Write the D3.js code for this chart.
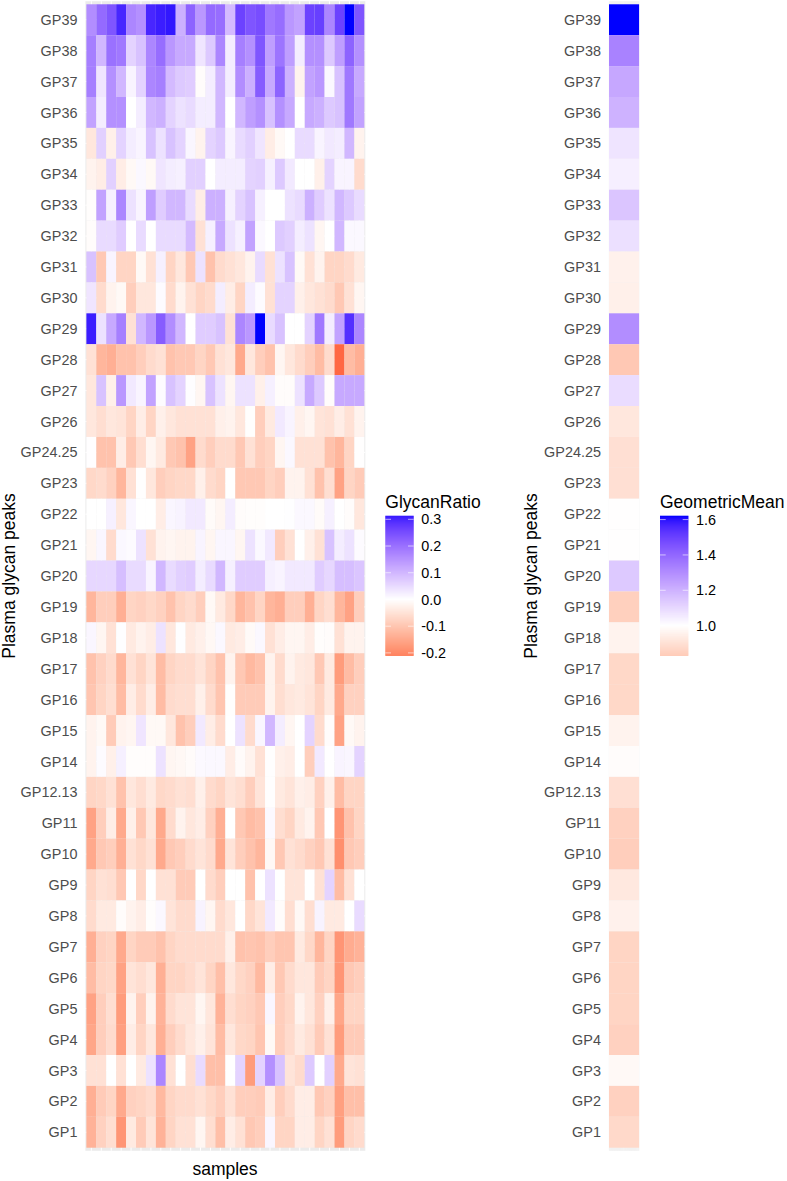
<!DOCTYPE html>
<html>
<head>
<meta charset="utf-8">
<script src="https://cdnjs.cloudflare.com/ajax/libs/d3/7.8.5/d3.min.js"></script>
<style>
html,body{margin:0;padding:0;background:#fff}
svg{display:block}
text{font-family:"Liberation Sans",Arial,sans-serif}
</style>
</head>
<body>
<svg id="chart" width="787" height="1181"></svg>
<script>
const peaks = ["GP39","GP38","GP37","GP36","GP35","GP34","GP33","GP32","GP31","GP30","GP29","GP28","GP27","GP26","GP24.25","GP23","GP22","GP21","GP20","GP19","GP18","GP17","GP16","GP15","GP14","GP12.13","GP11","GP10","GP9","GP8","GP7","GP6","GP5","GP4","GP3","GP2","GP1"];
const samples = d3.range(1,29).map(d=>"S"+d);

const gp39=[.16,.21,.24,.3,.17,.155,.3,.31,.315,.11,.22,.145,.21,.205,.095,.265,.24,.25,.19,.205,.145,.13,.265,.27,.17,.265,.33,.24];
const gp38=[.18,.1,.2,.19,.06,.085,.17,.205,.145,.12,.12,.035,.075,.17,.025,.18,.155,.24,.135,.195,.135,.025,.155,.155,.075,.135,.22,.155];
const gp37=[.18,.035,.155,.1,.015,.06,.17,.18,.095,.075,.07,-.005,.025,.1,.025,.16,.11,.23,.12,.22,.11,-.02,.13,.145,.01,.085,.19,.12];
const gp36=[.13,.025,.155,.155,0,.025,.1,.11,.06,.04,.05,.025,.025,.1,0,.1,.135,.155,.085,.155,.12,0,.12,.11,.075,.085,.19,.13];
const gp35=[-.04,.065,-.025,.06,.025,.015,.085,.04,.085,.06,.012,-.02,.06,.075,.015,.05,.065,.035,-.03,-.01,0,.05,.05,.015,.03,.025,.1,-.02];
const gp34=[-.02,-.03,.065,-.03,-.01,.01,-.01,.035,.025,.02,.065,.065,0,.025,.025,.025,.06,.065,.02,.075,.03,0,0,-.025,.06,.015,.015,-.06];
const gp33=[-.003,.13,.02,.17,.04,.015,.135,.07,.1,.1,.05,-.03,.11,.11,.02,.06,.085,.02,0,0,.04,.05,.11,.07,.04,.1,.075,.05];
const gp32=[-.005,.05,.05,.07,0,.05,0,.05,.05,.05,.095,-.05,.02,.12,.04,.02,.13,.01,0,.075,.065,.025,.04,-.015,0,.1,.01,.01];
const gp31=[.085,-.09,.015,-.07,-.07,-.01,-.05,.02,-.07,-.04,-.09,.04,-.1,-.06,-.05,-.04,-.02,.05,-.05,.04,.085,-.01,-.05,-.02,-.07,-.07,-.06,-.035];
const gp30=[.035,-.06,-.02,-.01,-.08,-.04,-.04,.005,-.06,-.02,-.05,-.07,-.06,.025,-.03,-.07,.025,.005,-.05,.06,.06,-.025,-.04,-.05,-.06,-.09,-.05,-.015];
const gp29=[.31,.04,.12,.18,-.05,.1,.145,.23,.16,.1,0,.07,.07,.085,-.05,.17,.145,.33,.05,.085,0,0,.06,.19,.025,.13,.29,.17];
const gp28=[-.05,-.12,-.13,-.1,-.1,-.08,-.06,-.05,-.1,-.09,-.09,-.07,-.09,-.05,-.04,-.14,-.04,-.08,-.1,-.015,-.04,-.06,-.08,-.11,-.06,-.235,-.11,-.13];
const gp27=[-.04,.085,-.025,.145,.03,.015,.13,.005,.085,.06,.003,-.015,.085,.04,-.015,.04,.04,-.025,.02,-.005,-.005,.04,.12,.075,-.005,.12,.12,.12];
const gp26=[-.04,-.055,-.04,-.045,-.07,-.03,-.07,-.025,-.04,-.05,-.05,-.05,-.05,-.025,-.02,-.04,-.002,-.08,-.035,.03,.015,-.025,-.015,-.045,-.05,-.03,-.05,-.02];
const gp2425=[.001,-.1,-.1,-.03,-.09,-.055,-.015,-.035,-.09,-.1,-.15,-.06,-.08,-.06,-.06,-.09,-.05,-.08,-.07,-.015,.01,-.05,-.05,-.05,-.1,-.12,-.07,-.001];
const gp23=[-.065,-.06,-.075,-.12,-.05,-.001,-.04,-.08,-.07,-.065,-.065,-.025,-.06,-.07,0,-.09,-.09,-.09,-.07,-.08,-.02,-.02,-.05,-.1,-.055,-.15,-.07,-.085];
const gp22=[0,0,.02,-.04,.012,0,0,-.03,.012,.017,.03,.03,-.007,-.015,.025,-.005,-.003,-.003,0,0,.002,.01,.01,-.007,.02,0,-.005,-.04];
const gp21=[-.015,.012,-.06,.01,.005,.04,-.05,-.02,-.015,-.02,-.02,.015,-.015,.012,.012,-.015,.04,.01,.03,-.08,-.05,0,-.025,-.05,.085,.025,.04,.005];
const gp20=[.055,.055,.055,.09,.05,.05,.015,.1,.05,.065,.07,.025,.05,.1,.02,.07,.07,.07,.02,.015,.03,.03,.03,.07,.055,.09,.09,.08];
const gp19=[-.12,-.08,-.08,-.13,-.07,-.075,-.065,-.075,-.1,-.07,-.06,-.08,-.01,-.035,-.065,-.12,-.1,-.07,-.12,-.13,-.08,-.08,-.13,-.07,-.055,-.12,-.15,-.08];
const gp18=[.012,-.015,-.05,.002,-.035,-.02,-.03,.04,-.04,.002,-.035,-.025,-.012,.01,-.035,-.03,-.008,.01,-.05,-.03,-.015,-.015,-.03,-.003,-.005,-.05,-.02,-.02];
const gp17=[-.1,-.075,-.06,-.12,-.05,-.07,-.045,-.11,-.07,-.06,-.06,-.045,-.07,-.1,-.02,-.09,-.115,-.1,-.02,-.06,-.02,-.035,-.04,-.09,-.035,-.16,-.11,-.08];
const gp16=[-.095,-.07,-.055,-.11,-.03,-.06,-.03,-.11,-.06,-.055,-.055,-.025,-.06,-.095,-.002,-.085,-.085,-.085,-.02,-.055,-.04,-.035,-.045,-.07,-.035,-.14,-.075,-.075];
const gp15=[-.02,-.01,-.085,-.02,-.015,.035,-.01,-.01,-.04,-.1,-.08,.03,-.03,-.06,0,.04,-.06,.012,.1,.025,-.015,0,.06,-.06,-.005,-.15,-.01,-.02];
const gp14=[-.02,.005,-.025,.02,-.003,-.003,-.003,.04,-.015,-.012,-.006,.008,.01,.01,-.03,-.006,-.02,-.05,-.001,-.025,-.03,0,-.08,.03,0,.015,.012,.06];
const gp1213=[-.07,-.065,-.05,-.1,-.04,-.055,-.035,-.065,-.06,-.05,-.055,-.025,-.06,-.07,-.045,-.055,-.08,-.045,-.001,-.035,-.045,-.025,-.03,-.075,-.025,-.11,-.07,-.07];
const gp11=[-.15,-.08,-.03,-.14,-.025,-.09,-.04,-.14,-.06,-.02,-.04,-.03,-.075,-.13,0,-.09,-.11,-.1,.008,-.055,-.07,-.035,-.02,-.09,0,-.17,-.1,-.07];
const gp10=[-.14,-.09,-.08,-.13,-.05,-.065,-.05,-.14,-.09,-.08,-.06,-.045,-.06,-.14,-.045,-.08,-.1,-.12,-.012,-.09,-.05,-.06,-.075,-.09,-.05,-.18,-.09,-.08];
const gp9=[-.07,-.05,-.055,-.09,0,-.065,0,-.05,-.05,-.085,-.085,0,-.06,-.08,0,0,-.1,0,.04,0,-.045,-.045,0,-.05,.06,-.11,-.05,0];
const gp8=[-.06,-.035,-.035,-.005,-.02,-.03,-.003,.01,-.045,-.06,-.06,.017,-.015,-.06,-.04,0,-.065,-.045,.03,-.005,-.055,-.012,-.055,.017,-.035,-.035,0,.05];
const gp7=[-.13,-.075,-.07,-.14,-.07,-.085,-.085,-.1,-.07,-.06,-.06,-.06,-.06,-.06,-.025,-.1,-.095,-.1,-.08,-.095,-.095,-.035,-.065,-.12,-.07,-.17,-.135,-.125];
const gp6=[-.11,-.07,-.065,-.15,-.045,-.055,-.04,-.13,-.07,-.07,-.06,-.045,-.07,-.105,-.04,-.065,-.075,-.115,-.03,-.09,-.06,-.04,-.04,-.085,-.07,-.17,-.09,-.08];
const gp5=[-.15,-.08,-.055,-.16,-.02,-.08,-.02,-.125,-.06,-.045,-.045,-.015,-.04,-.125,-.055,-.07,-.075,-.09,.012,-.08,-.065,-.02,-.04,-.075,-.025,-.145,-.07,-.07];
const gp4=[-.145,-.08,-.06,-.155,-.03,-.07,-.04,-.13,-.08,-.06,-.04,-.025,-.045,-.11,-.04,-.065,-.07,-.095,-.01,-.08,-.06,-.035,-.05,-.085,-.05,-.16,-.085,-.085];
const gp3=[-.05,-.05,0,-.05,0,-.035,.04,.17,-.05,0,-.055,.05,-.105,-.105,0,.06,-.16,.06,.155,.085,-.045,-.06,.075,0,.065,-.14,-.045,-.05];
const gp2=[-.13,-.085,-.07,-.14,-.075,-.07,-.06,-.115,-.07,-.06,-.06,-.05,-.065,-.08,-.05,-.08,-.08,-.085,-.03,-.08,-.06,-.03,-.03,-.09,-.075,-.155,-.105,-.105];
const gp1=[-.125,-.075,-.055,-.17,-.035,-.085,-.045,-.125,-.07,-.05,-.05,-.015,-.055,-.105,-.03,-.05,-.09,-.08,.012,-.07,-.07,-.03,-.03,-.07,-.05,-.16,-.07,-.06];

const ratioRows=[gp39,gp38,gp37,gp36,gp35,gp34,gp33,gp32,gp31,gp30,gp29,gp28,gp27,gp26,gp2425,gp23,gp22,gp21,gp20,gp19,gp18,gp17,gp16,gp15,gp14,gp1213,gp11,gp10,gp9,gp8,gp7,gp6,gp5,gp4,gp3,gp2,gp1];
const geoMean=[1.62,1.33,1.23,1.2,1.07,1.04,1.15,1.08,.955,.95,1.3,.82,1.09,.92,.895,.895,.998,.998,1.14,.845,.96,.87,.87,.96,.99,.895,.85,.84,.925,.955,.86,.86,.86,.85,.98,.85,.875];

const ratioTicks=[-0.2,-0.1,0,0.1,0.2,0.3];
const geoTicks=[1.0,1.2,1.4,1.6];

const svg=d3.select("#chart");
const panelTop=1.2, panelBottom=1150.8;
const GRID="#EBEBEB", INK="#4D4D4D";

function colorScale(lo,mid,hi){
  return d3.scaleLinear().domain([lo,mid,hi]).range(["red","white","blue"]).interpolate(d3.interpolateLab);
}
const ratioColor=colorScale(-0.33,0,0.33);
const tileColor=colorScale(-0.31,0,0.33);
const geoColor=colorScale(0.38,1,1.62);

function panel(x0,x1,gridW,tileFn){
  const x=d3.scalePoint().domain(samples).range([x0,x1]).padding(0.6);
  const y=d3.scalePoint().domain(peaks).range([panelTop,panelBottom]).padding(0.6);
  const g=svg.append("g");
  g.append("rect").attr("x",x0).attr("y",panelTop).attr("width",x1-x0).attr("height",panelBottom-panelTop).attr("fill",GRID);
  g.selectAll("line.v").data(samples).join("line").attr("class","v").attr("x1",d=>x(d)).attr("x2",d=>x(d)).attr("y1",panelTop).attr("y2",panelBottom).attr("stroke","#fff").attr("stroke-width",gridW);
  g.selectAll("line.h").data(peaks).join("line").attr("class","h").attr("y1",d=>y(d)).attr("y2",d=>y(d)).attr("x1",x0).attr("x2",x1).attr("stroke","#fff").attr("stroke-width",1);
  tileFn(g,x,y);
  const ax=g.append("g").attr("transform",`translate(${x0},0)`).call(d3.axisLeft(y).tickSize(0).tickPadding(8));
  ax.select(".domain").remove();
  ax.selectAll("text").attr("fill",INK).attr("font-size",14.4).attr("font-family",'"Liberation Sans",Arial,sans-serif');
}

panel(85.4,365.3,1,(g,x,y)=>{
  const sx=x.step(), sy=y.step();
  const rows=g.selectAll("g.row").data(peaks).join("g").attr("class","row");
  rows.selectAll("rect").data((p,i)=>ratioRows[i].map((v,j)=>({p,s:samples[j],v}))).join("rect")
    .attr("x",d=>x(d.s)-sx/2).attr("y",d=>y(d.p)-sy/2).attr("width",sx).attr("height",sy)
    .attr("fill",d=>tileColor(d.v));
});
panel(608.9,639.2,0.4,(g,x,y)=>{
  const sy=y.step();
  const x0=x(samples[0])-x.step()/2, x1=x(samples[samples.length-1])+x.step()/2;
  g.selectAll("rect.tile").data(peaks).join("rect").attr("class","tile")
    .attr("x",x0).attr("width",x1-x0).attr("y",d=>y(d)-sy/2).attr("height",sy)
    .attr("fill",(d,i)=>geoColor(geoMean[i]));
});

function titleY(x,txt){
  svg.append("text").attr("transform",`translate(${x},576) rotate(-90)`).attr("text-anchor","middle").attr("font-size",17.5).attr("fill","#000").text(txt);
}
titleY(14.8,"Plasma glycan peaks");
titleY(536.7,"Plasma glycan peaks");
svg.append("text").attr("x",225).attr("y",1175).attr("text-anchor","middle").attr("font-size",17.5).attr("fill","#000").text("samples");

const fmtTick=t=>d3.format(".1f")(t).replace("\u2212","-");
function legend(x0,title,ticks,color,vTop,vBottom){
  const top=515.7,bottom=655.7,w=28.4;
  const s=d3.scaleLinear().domain([vTop,vBottom]).range([top,bottom]);
  const g=svg.append("g");
  g.append("text").attr("x",x0).attr("y",508).attr("font-size",17.5).attr("fill","#000").text(title);
  const steps=d3.range(top,bottom,1);
  g.selectAll("rect").data(steps).join("rect").attr("x",x0).attr("width",w).attr("y",d=>d).attr("height",1.3)
    .attr("fill",d=>color(s.invert(d+0.5)));
  ticks.forEach(t=>{
    const yy=s(t);
    g.append("line").attr("x1",x0).attr("x2",x0+5.7).attr("y1",yy).attr("y2",yy).attr("stroke","#fff").attr("stroke-width",0.6);
    g.append("line").attr("x1",x0+w-5.7).attr("x2",x0+w).attr("y1",yy).attr("y2",yy).attr("stroke","#fff").attr("stroke-width",0.6);
    g.append("text").attr("x",x0+w+7.5).attr("y",yy).attr("dy","0.36em").attr("font-size",14.4).attr("fill","#000").text(fmtTick(t));
  });
}
legend(385.3,"GlycanRatio",ratioTicks,ratioColor,0.3135,-0.2105);
legend(660,"GeometricMean",geoTicks,geoColor,1.622,0.83);
</script>
</body>
</html>
